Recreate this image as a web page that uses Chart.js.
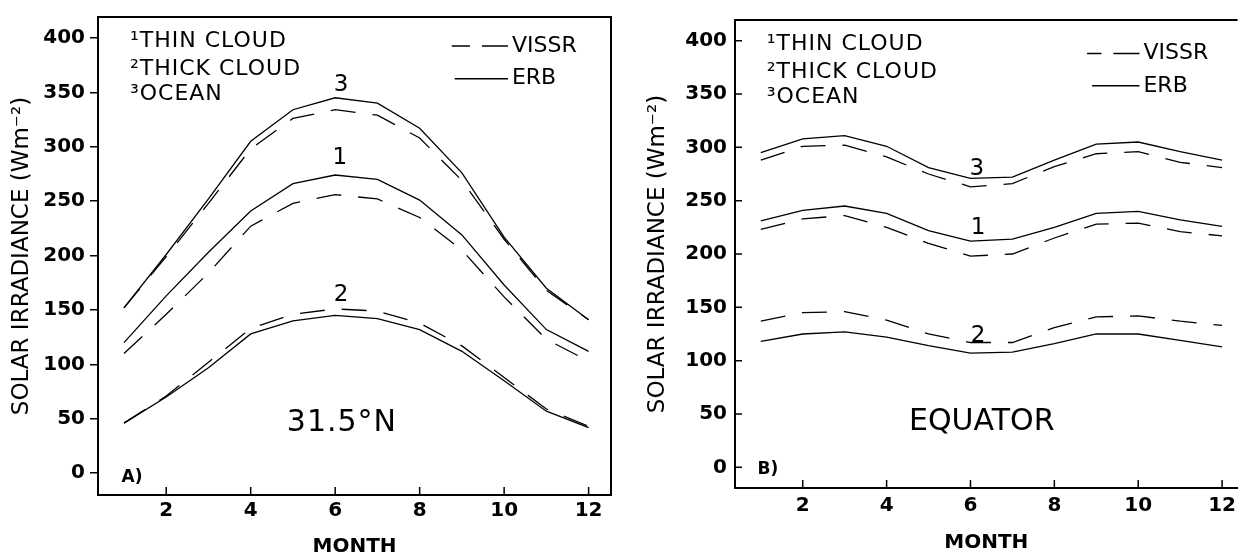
<!DOCTYPE html>
<html>
<head>
<meta charset="utf-8">
<script src="https://cdn.jsdelivr.net/npm/chart.js@4.4.1/dist/chart.umd.min.js"></script>
<style>
  html, body { margin: 0; padding: 0; background: #fff; }
  #wrap { position: relative; width: 1242px; height: 559px; }
  .panel { position: absolute; top: 0; height: 559px; }
  #panelA { left: 0; width: 625px; }
  #panelB { left: 625px; width: 617px; }
</style>
</head>
<body>
<div id="wrap">
  <div class="panel" id="panelA"><canvas id="chartA" width="625" height="559"></canvas></div>
  <div class="panel" id="panelB"><canvas id="chartB" width="617" height="559"></canvas></div>
</div>
<script>
// x axis: months
const months = [1, 2, 3, 4, 5, 6, 7, 8, 9, 10, 11, 12];
const monthTicks = [2, 4, 6, 8, 10, 12];
const irrTicks = [0, 50, 100, 150, 200, 250, 300, 350, 400];

// A) 31.5 N  (W m-2)
const northOceanErb   = [152, 201, 252, 305, 334, 345, 340, 317, 276, 217, 170, 141];
const northOceanVissr = [152, 199, 248, 298, 326, 334, 329, 308, 269, 215, 168, 141];
const northThinErb    = [120, 163, 203, 241, 266, 274, 270, 251, 219, 173, 132, 112];
const northThinVissr  = [110, 146, 184, 227, 248, 256, 252, 235, 205, 162, 123, 103];
const northThickErb   = [46, 70, 97, 128, 140, 145, 142, 132, 112, 85, 57, 42];
const northThickVissr = [46, 71, 102, 133, 146, 151, 149, 138, 117, 88, 59, 43];

// B) equator
const eqOceanErb   = [295, 308, 311, 301, 281, 271, 272, 288, 303, 305, 296, 288];
const eqOceanVissr = [288, 301, 302, 291, 275, 263, 266, 282, 294, 296, 286, 281];
const eqThinErb    = [231, 241, 245, 238, 222, 212, 214, 225, 238, 240, 232, 226];
const eqThinVissr  = [223, 233, 236, 225, 210, 198, 200, 215, 228, 229, 221, 217];
const eqThickErb   = [118, 125, 127, 122, 114, 107, 108, 116, 125, 125, 119, 113];
const eqThickVissr = [137, 145, 146, 138, 125, 117, 117, 131, 141, 142, 137, 133];

Chart.defaults.font.family = "'DejaVu Sans', sans-serif";
Chart.defaults.color = '#000';

const VISSR_DASH = [25, 17];

function series(vals, dashed) {
    return {
        data: months.map((m, i) => ({ x: m, y: vals[i] })),
        borderColor: '#000',
        borderWidth: 1.3,
        borderDash: dashed ? VISSR_DASH : [],
        pointRadius: 0,
        tension: 0,
        fill: false
    };
}

// frame, inward ticks, labels and legend drawn on top
const paperPlugin = {
    id: 'paper',
    afterDraw(chart, args, o) {
        const { ctx, chartArea: a } = chart;
        const x = chart.scales.x, y = chart.scales.y;
        ctx.save();
        ctx.strokeStyle = '#000';
        ctx.fillStyle = '#000';
        ctx.lineWidth = 2;
        ctx.beginPath();
        ctx.moveTo(a.left, a.top);
        ctx.lineTo(a.right, a.top);
        if (o.rightEdge) ctx.lineTo(a.right, a.bottom);
        ctx.stroke();

        ctx.lineWidth = 1.5;
        ctx.beginPath();
        x.ticks.forEach(t => {
            const px = x.getPixelForValue(t.value);
            ctx.moveTo(px, a.bottom);
            ctx.lineTo(px, a.bottom - 8);
        });
        if (o.innerY) {
            y.ticks.forEach(t => {
                const py = y.getPixelForValue(t.value);
                ctx.moveTo(a.left, py);
                ctx.lineTo(a.left + 7, py);
            });
        }
        ctx.stroke();

        ctx.textBaseline = 'middle';
        o.texts.forEach(t => {
            ctx.font = t.font;
            ctx.letterSpacing = t.spacing || '0px';
            ctx.textAlign = t.align || 'center';
            ctx.fillText(t.text, x.getPixelForValue(t.x), y.getPixelForValue(t.y));
        });
        ctx.letterSpacing = '0px';

        ctx.lineWidth = 1.4;
        o.legend.forEach(l => {
            const x0 = x.getPixelForValue(l.x0), x1 = x.getPixelForValue(l.x1);
            const py = y.getPixelForValue(l.y);
            ctx.setLineDash(l.dash);
            ctx.beginPath();
            ctx.moveTo(x1, py);
            ctx.lineTo(x0, py);
            ctx.stroke();
            ctx.setLineDash([]);
            ctx.font = "22px 'DejaVu Sans'";
            ctx.textAlign = 'left';
            ctx.fillText(l.label, x1 + 4, py);
        });
        ctx.restore();
    }
};

function makeChart(id, cfg) {
    return new Chart(document.getElementById(id), {
        type: 'line',
        data: {
            datasets: [
                series(cfg.oceanErb, false), series(cfg.oceanVissr, true),
                series(cfg.thinErb, false), series(cfg.thinVissr, true),
                series(cfg.thickErb, false), series(cfg.thickVissr, true)
            ]
        },
        options: {
            responsive: false,
            animation: false,
            layout: { padding: cfg.padding },
            plugins: {
                legend: { display: false },
                tooltip: { enabled: false },
                paper: cfg.paper
            },
            scales: {
                x: {
                    type: 'linear',
                    min: cfg.xMin, max: cfg.xMax,
                    afterBuildTicks: s => { s.ticks = monthTicks.map(v => ({ value: v })); },
                    afterFit: s => { s.height = cfg.xHeight; },
                    border: { display: true, color: '#000', width: 2 },
                    grid: { drawOnChartArea: false, drawTicks: false },
                    ticks: { padding: cfg.xTickPad, maxRotation: 0, font: { size: 20, weight: 'bold' } },
                    title: {
                        display: true, text: 'MONTH',
                        font: { size: 20, weight: 'bold' },
                        padding: { top: 0, bottom: cfg.xTitlePad }
                    }
                },
                y: {
                    min: cfg.yMin, max: cfg.yMax,
                    afterBuildTicks: s => { s.ticks = irrTicks.map(v => ({ value: v })); },
                    afterFit: s => { s.width = cfg.yWidth; },
                    border: { display: true, color: '#000', width: 2 },
                    grid: {
                        drawOnChartArea: false, drawTicks: !cfg.paper.innerY,
                        tickLength: 8, color: '#000', lineWidth: 1.5
                    },
                    ticks: { padding: cfg.yTickPad, font: { size: 20, weight: 'bold' } },
                    title: {
                        display: true, text: 'SOLAR IRRADIANCE (Wm⁻²)',
                        font: { size: 23 },
                        padding: { top: cfg.yTitlePad, bottom: 0 }
                    }
                }
            }
        },
        plugins: [paperPlugin]
    });
}

const numFont = "23px 'DejaVu Sans'";
const keyFont = "22px 'DejaVu Sans'";
const bigFont = "30px 'DejaVu Sans'";
const tagFont = "bold 17px 'DejaVu Sans'";

makeChart('chartA', {
    oceanErb: northOceanErb, oceanVissr: northOceanVissr,
    thinErb: northThinErb, thinVissr: northThinVissr,
    thickErb: northThickErb, thickVissr: northThickVissr,
    padding: { top: 14, right: 14, left: 0, bottom: 0 },
    xMin: 0.385, xMax: 12.53, yMin: -20, yMax: 419.2,
    xHeight: 64, yWidth: 98,
    xTickPad: 4, xTitlePad: 0, yTickPad: 5, yTitlePad: 8,
    paper: {
        rightEdge: true, innerY: false,
        texts: [
            { text: '¹THIN CLOUD', x: 1.14, y: 397, font: keyFont, align: 'left', spacing: '1px' },
            { text: '²THICK CLOUD', x: 1.14, y: 371.5, font: keyFont, align: 'left', spacing: '1px' },
            { text: '³OCEAN', x: 1.14, y: 348, font: keyFont, align: 'left', spacing: '1px' },
            { text: '3', x: 6.14, y: 357, font: numFont },
            { text: '1', x: 6.11, y: 290, font: numFont },
            { text: '2', x: 6.14, y: 163.5, font: numFont },
            { text: '31.5°N', x: 6.16, y: 45.7, font: bigFont, spacing: '1px' },
            { text: 'A)', x: 1.19, y: -3.7, font: tagFont }
        ],
        legend: [
            { label: 'VISSR', x0: 8.76, x1: 10.09, y: 392.5, dash: [26, 12] },
            { label: 'ERB', x0: 8.83, x1: 10.09, y: 362.5, dash: [] }
        ]
    }
});

makeChart('chartB', {
    oceanErb: eqOceanErb, oceanVissr: eqOceanVissr,
    thinErb: eqThinErb, thinVissr: eqThinVissr,
    thickErb: eqThickErb, thickVissr: eqThickVissr,
    padding: { top: 12, right: 0, left: 0, bottom: 0 },
    xMin: 0.385, xMax: 12.37, yMin: -19.4, yMax: 419.4,
    xHeight: 71, yWidth: 110,
    xTickPad: 6, xTitlePad: 4, yTickPad: 8, yTitlePad: 19,
    paper: {
        rightEdge: false, innerY: true,
        texts: [
            { text: '¹THIN CLOUD', x: 1.14, y: 396.7, font: keyFont, align: 'left', spacing: '1px' },
            { text: '²THICK CLOUD', x: 1.14, y: 370.8, font: keyFont, align: 'left', spacing: '1px' },
            { text: '³OCEAN', x: 1.14, y: 346.9, font: keyFont, align: 'left', spacing: '1px' },
            { text: '3', x: 6.15, y: 279.6, font: numFont },
            { text: '1', x: 6.18, y: 224.3, font: numFont },
            { text: '2', x: 6.18, y: 123, font: numFont },
            { text: 'EQUATOR', x: 6.27, y: 42.7, font: bigFont },
            { text: 'B)', x: 1.17, y: -2.4, font: tagFont }
        ],
        legend: [
            { label: 'VISSR', x0: 8.78, x1: 10.03, y: 388, dash: [26, 12] },
            { label: 'ERB', x0: 8.9, x1: 10.03, y: 357.7, dash: [] }
        ]
    }
});
</script>
</body>
</html>
